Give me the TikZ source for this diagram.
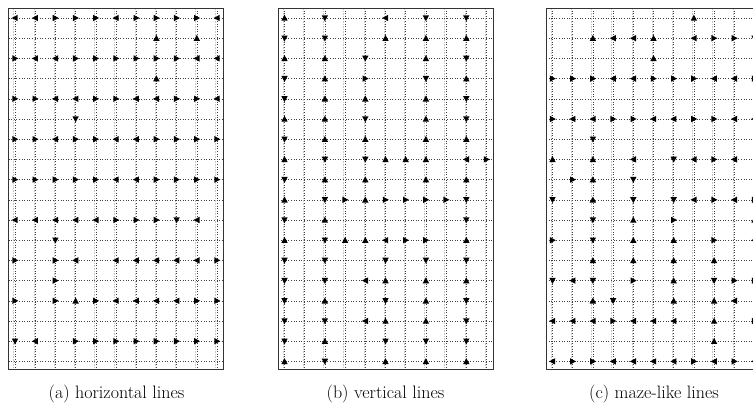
\documentclass[tikz,border=0pt]{standalone}
\newcommand\angR{0}
\newcommand\angU{90}
\newcommand\angL{180}
\newcommand\angD{270}
\newcommand\gsp{20.2}
\tikzset{
  mk/.style={fill=black},
  gridln/.style={dotted, line width=0.6pt, black!75},
  gridshade/.style={black!22, line width=0.7pt, dash pattern=on 1.6pt off 1pt},
  framebox/.style={draw=black!80, line width=0.9pt},
  caption/.style={font=\fontsize{18}{22}\selectfont, anchor=base, inner sep=0pt},
}
\newcommand\mkat[3]{\edef\tmpang{\csname ang#3\endcsname}\fill[mk,shift={(#1*\gsp,18+#2*\gsp)},rotate=\tmpang] (3.3,0)--(-2.7,3.2)--(-2.7,-3.2)--cycle;}
\newcommand\mrow[2]{\foreach \a [count=\c from 0] in {#2} {\if N\a\else\mkat{\c}{#1}{\a}\fi}}
\newcommand\panelgrid{%
  \foreach \c in {0,...,10} \draw[gridshade] (\c*\gsp-1.3,8) -- (\c*\gsp-1.3,369);
  \foreach \c in {0,...,10} \draw[gridln] (\c*\gsp,8) -- (\c*\gsp,369);
  \foreach \r in {0,...,17} \draw[gridln] (-6.5,18+\r*\gsp) -- (208.5,18+\r*\gsp);
  \draw[framebox] (-6.5,8) rectangle (208.5,369);
}
\begin{document}
\begin{tikzpicture}[x=1pt,y=-1pt]
\useasboundingbox (0,0) rectangle (753,413);
\clip (0,0) rectangle (753,413);
% ---------------- panel (a)
\begin{scope}[shift={(15,0)}]
\panelgrid
\mrow{0}{L,L,R,R,R,L,R,R,R,R,L}
\mrow{1}{N,N,N,N,N,N,N,U,N,U,N}
\mrow{2}{R,L,L,R,R,R,R,R,R,L,L}
\mrow{3}{N,N,N,N,N,N,N,U,N,N,N}
\mrow{4}{R,R,L,L,R,R,L,L,R,R,L}
\mrow{5}{N,N,N,D,N,N,N,N,N,N,N}
\mrow{6}{R,R,L,R,R,L,L,R,R,R,R}
\mrow{8}{R,R,R,R,R,L,L,R,R,R,R}
\mrow{10}{L,L,L,L,L,R,R,R,D,L,N}
\mrow{11}{N,N,D,N,N,N,N,N,N,N,N}
\mrow{12}{R,N,R,L,N,L,L,L,L,L,R}
\mrow{13}{N,N,R,N,N,N,N,N,N,N,N}
\mrow{14}{R,N,R,U,R,L,L,L,L,R,R}
\mrow{16}{D,L,N,R,R,R,R,R,R,R,R}
\end{scope}
% ---------------- panel (b)
\begin{scope}[shift={(284.5,0)}]
\panelgrid
\mrow{0}{U,N,D,N,N,L,N,D,N,D,N}
\mrow{1}{D,N,D,N,N,U,N,U,N,U,N}
\mrow{2}{U,N,U,N,D,N,N,U,N,D,N}
\mrow{3}{D,N,U,N,R,N,N,D,N,U,N}
\mrow{4}{D,N,U,N,U,N,N,U,N,D,N}
\mrow{5}{U,N,U,N,D,N,N,U,N,D,N}
\mrow{6}{D,N,U,N,U,N,N,U,N,U,N}
\mrow{7}{U,N,D,N,D,U,U,U,N,L,R}
\mrow{8}{D,N,U,N,U,N,N,U,N,U,N}
\mrow{9}{U,N,D,R,U,R,R,R,R,D,N}
\mrow{10}{D,N,U,N,N,N,N,N,N,D,N}
\mrow{11}{U,N,D,U,U,L,R,R,N,U,N}
\mrow{12}{D,N,D,N,N,D,N,D,N,D,N}
\mrow{13}{D,N,D,N,L,U,N,U,N,U,N}
\mrow{14}{D,N,U,N,N,D,N,U,N,D,N}
\mrow{15}{D,N,D,N,L,U,N,U,N,D,N}
\mrow{16}{D,N,U,N,N,D,N,D,N,D,N}
\mrow{17}{U,N,D,N,N,U,N,U,N,U,N}
\end{scope}
% ---------------- panel (c)
\begin{scope}[shift={(552.5,0)}]
\panelgrid
\mrow{0}{N,N,N,N,N,N,N,U,N,N,N}
\mrow{1}{N,N,U,L,L,U,N,L,R,R,D}
\mrow{2}{N,N,N,N,N,U,N,N,N,N,N}
\mrow{3}{R,R,R,L,L,R,R,R,L,L,R}
\mrow{5}{R,L,L,R,R,L,L,R,R,L,L}
\mrow{6}{N,N,D,N,N,N,N,N,N,N,N}
\mrow{7}{U,N,U,N,L,N,D,L,R,L,N}
\mrow{8}{N,R,U,N,D,N,N,N,N,N,N}
\mrow{9}{D,N,U,N,D,N,D,L,R,L,R}
\mrow{10}{N,N,D,N,U,N,R,N,N,N,U}
\mrow{11}{R,N,D,N,U,N,U,N,R,N,L}
\mrow{12}{N,N,U,N,U,N,U,N,U,N,N}
\mrow{13}{D,L,D,N,R,N,U,N,D,R,R}
\mrow{14}{N,N,U,D,N,N,U,N,U,L,N}
\mrow{15}{L,L,L,R,L,L,L,N,U,N,R}
\mrow{16}{N,N,N,N,N,N,N,N,U,N,N}
\mrow{17}{L,R,R,L,L,L,L,R,L,R,L}
\end{scope}
% ---------------- captions
\node[caption] (capa) at (116.5,398) {(a) horizontal lines};
\node[caption] (capb) at (385.5,398) {(b) vertical lines};
\node[caption] (capc) at (654,398) {(c) maze-like lines};
\end{tikzpicture}
\end{document}
